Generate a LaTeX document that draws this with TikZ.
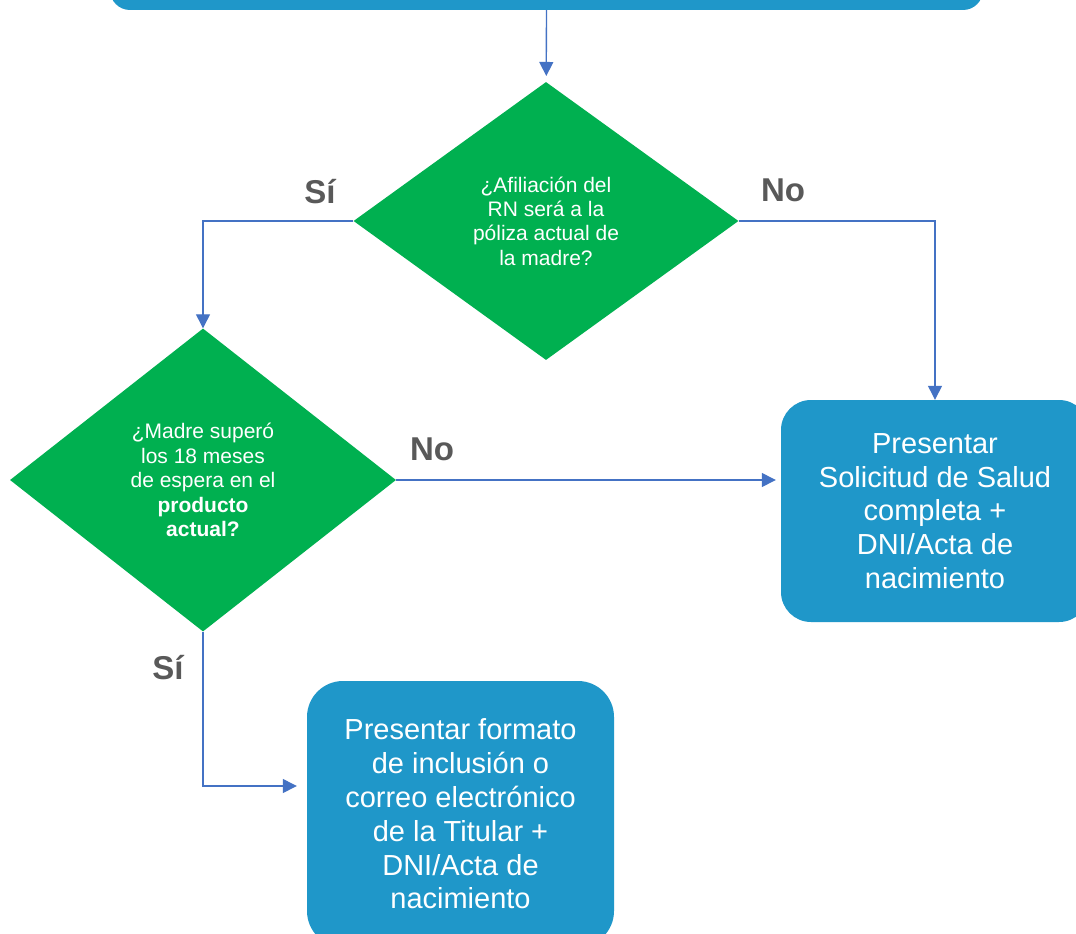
\documentclass[tikz,border=0pt]{standalone}
\usepackage{fontspec}
\setmainfont{Liberation Sans}
\usetikzlibrary{positioning,shapes.geometric,arrows.meta}

\definecolor{boxblue}{HTML}{1F97C9}
\definecolor{askgreen}{HTML}{00B050}
\definecolor{linkblue}{HTML}{4472C4}
\definecolor{labelgray}{HTML}{595959}

\tikzset{
  decision/.style={diamond,fill=askgreen,text=white,inner sep=0pt,align=center,
    font=\fontsize{21}{24.4}\selectfont},
  stepbox/.style={rectangle,rounded corners=30pt,fill=boxblue,text=white,align=center,
    font=\fontsize{29}{33.8}\selectfont},
  answer/.style={text=labelgray,font=\bfseries\fontsize{33}{36}\selectfont},
  link/.style={draw=linkblue,line width=1.3pt,-{Triangle[length=14pt,width=14pt]}}
}

\begin{document}
\begin{tikzpicture}[x=1pt,y=-1pt]
        \clip (0,0) rectangle (1076,934);
        \fill [white] (0,0) rectangle (1076,934);

        \node [stepbox,rounded corners=20pt,minimum width=873pt,minimum height=70pt] at (546.5,-25) (start){};
        \node [decision,minimum width=385pt,minimum height=278pt] at (546,221) (q1)
              {¿Afiliación del\\RN será a la\\póliza actual de\\la madre?};
        \node [decision,minimum width=386pt,minimum height=303pt] at (203,480) (q2)
              {¿Madre superó\\los 18 meses\\de espera en el\\\textbf{producto}\\\textbf{actual?}};
        \node [stepbox,minimum width=308pt,minimum height=222pt] at (935,511) (solicitud)
              {Presentar\\Solicitud de Salud\\completa +\\DNI/Acta de\\nacimiento};
        \node [stepbox,rounded corners=36pt,minimum width=307pt,minimum height=266pt] at (460.5,814) (inclusion)
              {Presentar formato\\de inclusión o\\correo electrónico\\de la Titular +\\DNI/Acta de\\nacimiento};

        \node [answer] at (320,192) (si1){Sí};
        \node [answer] at (783,190) (no1){No};
        \node [answer] at (432,449) (no2){No};
        \node [answer] at (168,668) (si2){Sí};

        \draw [link,shorten >=6pt] (start) -- (q1);
        \draw [link] (q1.west) -| (q2.north);
        \draw [link] (q1.east) -| (solicitud.north);
        \draw [link,shorten >=5pt] (q2.east) -- (q2.east -| solicitud.west);
        \draw [link,shorten >=10pt] (q2.south) |- ([yshift=28pt]inclusion.west);
      \end{tikzpicture}
\end{document}
